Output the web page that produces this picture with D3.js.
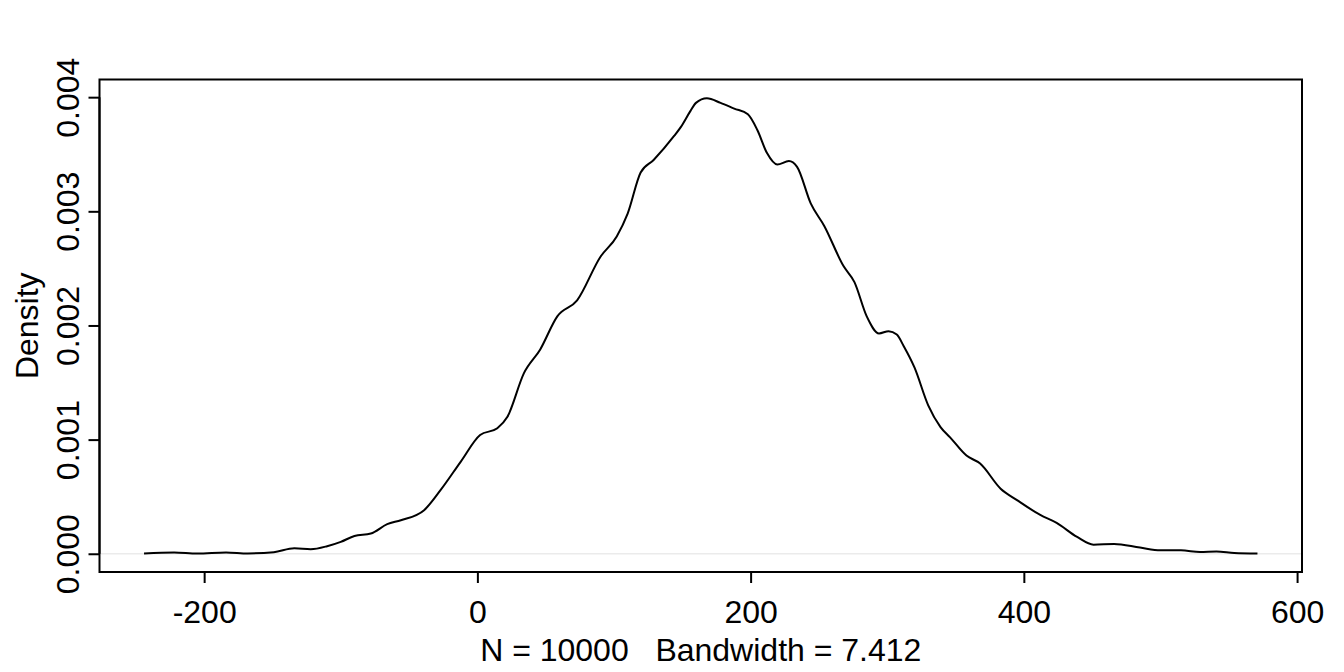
<!DOCTYPE html>
<html>
<head>
<meta charset="utf-8">
<script src="https://cdn.jsdelivr.net/npm/d3@7"></script>
<style>
  html, body { margin: 0; padding: 0; background: #fff; }
  svg text { font-family: "Liberation Sans", Arial, Helvetica, sans-serif; fill: #000; }
</style>
</head>
<body>
<svg id="chart" width="1344" height="672"></svg>
<script>
// Density estimate (x value, density)
const xValues = [-244, -222, -205, -184, -168, -149, -134, -122, -110, -100, -90, -78, -66, -56, -39, -27, -12,
  2, 14.6, 22, 34, 46, 58.5, 73, 90, 102, 110, 119.5, 129, 144, 149, 156, 160, 168, 178, 188, 198, 205, 212,
  219.5, 228, 234, 244, 254, 268, 276, 285, 294, 301, 307, 312, 320, 330, 339, 346, 358, 368, 383, 395, 412, 424,
  439, 451, 466, 485, 500, 515, 529, 541, 554, 571];
const densityValues = [0.000003, 0.000012, 0.000002, 0.000012, 0.000003, 0.000014, 0.000048, 0.00004, 0.000066,
  0.000104, 0.000156, 0.000177, 0.000259, 0.000294, 0.000382, 0.000557, 0.00081,
  0.00104, 0.0011, 0.0012, 0.00158, 0.00179, 0.00208, 0.00222, 0.0026, 0.00278, 0.00298, 0.00334, 0.00345,
  0.00366, 0.00374, 0.00388, 0.00395, 0.00399, 0.00395, 0.0039, 0.00385, 0.00371, 0.00351,
  0.00341, 0.00344, 0.00339, 0.00307, 0.00287, 0.00252, 0.00238, 0.00208, 0.00193, 0.00195, 0.00192, 0.00182, 0.00163,
  0.0013, 0.00111, 0.00102, 0.00086, 0.00079, 0.00057, 0.00047, 0.00034, 0.00027,
  0.000147, 0.00008, 0.000086, 0.000054, 0.00003, 0.00003, 0.000016, 0.00002, 0.000007, 0.000002];
const xTicks = [-200, 0, 200, 400, 600];
const yTicks = [0, 0.001, 0.002, 0.003, 0.004];
const yLabel = "Density";
const subLabel = "N = 10000   Bandwidth = 7.412";

const svg = d3.select("#chart");
const box = { left: 99.5, right: 1302, top: 79.5, bottom: 572 };

const data = xValues.map((x, i) => ({ x, y: densityValues[i] }));

// R-style 4% extension of ranges
const xr = d3.extent(xValues);
const xpad = (xr[1] - xr[0]) * 0.04;
const x = d3.scaleLinear().domain([xr[0] - xpad, xr[1] + xpad]).range([box.left, box.right]);
const ymax = 0.003995;
const y = d3.scaleLinear().domain([-0.04 * ymax, 1.04 * ymax]).range([box.bottom, box.top]);

const fontSize = 32;

// zero line
svg.append("line")
  .attr("x1", box.left).attr("x2", box.right)
  .attr("y1", y(0)).attr("y2", y(0))
  .attr("stroke", "#ebebeb").attr("stroke-width", 1.5);

// density curve
svg.append("path")
  .datum(data)
  .attr("fill", "none")
  .attr("stroke", "#000")
  .attr("stroke-width", 2)
  .attr("stroke-linejoin", "round")
  .attr("d", d3.line().x(d => x(d.x)).y(d => y(d.y)).curve(d3.curveMonotoneX));

// box
svg.append("rect")
  .attr("x", box.left).attr("y", box.top)
  .attr("width", box.right - box.left).attr("height", box.bottom - box.top)
  .attr("fill", "none").attr("stroke", "#000").attr("stroke-width", 2);

// x axis
const xAxis = d3.axisBottom(x).tickValues(xTicks).tickSize(11).tickPadding(0).tickFormat(d => String(d));
const gx = svg.append("g").attr("transform", `translate(0,${box.bottom})`).call(xAxis);
gx.select(".domain").attr("stroke-width", 2).attr("d", `M${x(xTicks[0])},0H${x(xTicks[xTicks.length-1])}`);
gx.selectAll(".tick line").attr("stroke-width", 2);
gx.selectAll(".tick text")
  .attr("font-size", fontSize)
  .attr("font-family", "Liberation Sans, Arial, sans-serif")
  .attr("dy", null)
  .attr("y", 51);

// y axis
const yAxis = d3.axisLeft(y).tickValues(yTicks).tickSize(11).tickPadding(0).tickFormat(d3.format(".3f"));
const gy = svg.append("g").attr("transform", `translate(${box.left},0)`).call(yAxis);
gy.select(".domain").attr("stroke-width", 2).attr("d", `M0,${y(yTicks[0])}V${y(yTicks[yTicks.length-1])}`);
gy.selectAll(".tick line").attr("stroke-width", 2);
gy.selectAll(".tick text")
  .attr("font-size", fontSize)
  .attr("font-family", "Liberation Sans, Arial, sans-serif")
  .attr("x", null).attr("dy", null)
  .attr("text-anchor", "middle")
  .attr("transform", "translate(-21,0) rotate(-90)");

// y label
svg.append("text")
  .attr("transform", `translate(38,${(box.top + box.bottom) / 2}) rotate(-90)`)
  .attr("text-anchor", "middle")
  .attr("font-size", fontSize)
  .text(yLabel);

// sub label
svg.append("text")
  .attr("x", (box.left + box.right) / 2)
  .attr("y", 661)
  .attr("text-anchor", "middle")
  .attr("font-size", fontSize)
  .style("white-space", "pre")
  .text(subLabel);
</script>
</body>
</html>
